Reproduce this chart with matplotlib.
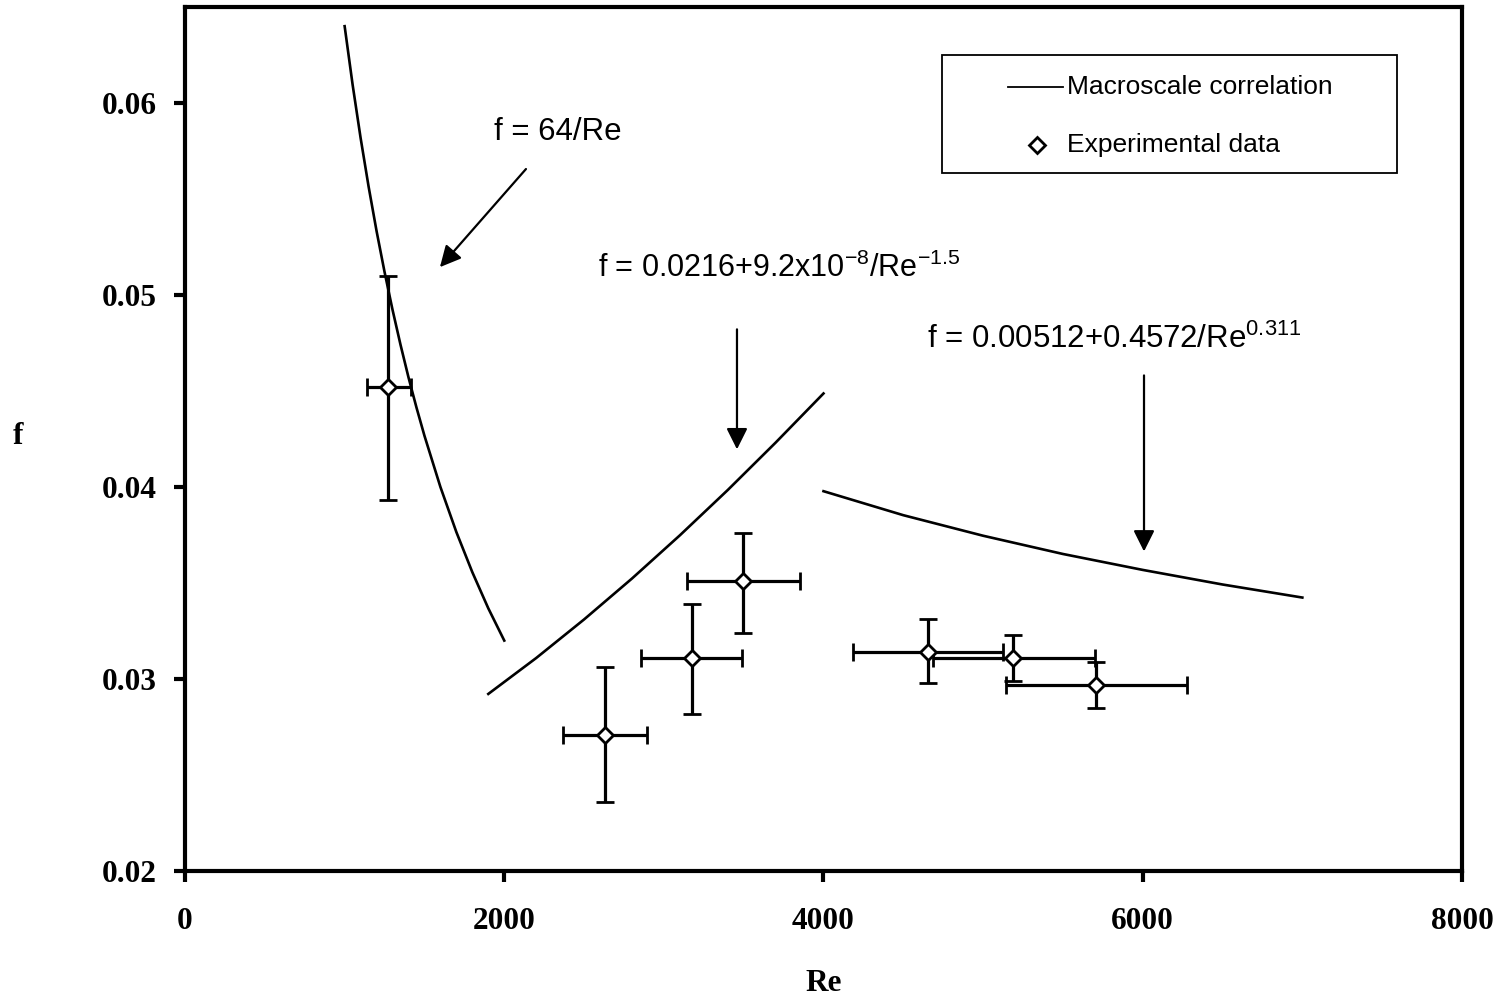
import matplotlib
matplotlib.use("Agg")
import matplotlib.pyplot as plt
from matplotlib.lines import Line2D
from matplotlib.patches import Rectangle

# ---- data ----
# laminar correlation f = 64/Re
re_lam = [1000, 1050, 1100, 1150, 1200, 1250, 1300, 1350, 1400, 1450, 1500, 1600, 1700, 1800, 1900, 2000]
f_lam = [0.0640, 0.06095, 0.05818, 0.05565, 0.05333, 0.0512, 0.04923, 0.04741, 0.04571,
         0.04414, 0.04267, 0.0400, 0.03765, 0.03556, 0.03368, 0.0320]
# transition correlation
re_tr = [1900, 2200, 2500, 2800, 3100, 3400, 3700, 4000]
f_tr = [0.02922, 0.03109, 0.0331, 0.03523, 0.03748, 0.03984, 0.04231, 0.04487]
# turbulent correlation
re_tu = [4000, 4500, 5000, 5500, 6000, 6500, 7000]
f_tu = [0.03978, 0.03853, 0.03746, 0.03651, 0.03568, 0.03492, 0.03424]

# experimental data with asymmetric error bounds
re_exp = [1272, 2631, 3176, 3496, 4655, 5187, 5707]
f_exp = [0.0452, 0.0271, 0.0311, 0.0351, 0.0314, 0.0311, 0.0297]
re_lo = [1140, 2368, 2857, 3145, 4185, 4686, 5143]
re_hi = [1416, 2894, 3489, 3853, 5124, 5701, 6277]
f_lo = [0.0393, 0.0236, 0.0282, 0.0324, 0.0298, 0.0299, 0.0285]
f_hi = [0.0510, 0.0306, 0.0339, 0.0376, 0.0331, 0.0323, 0.0309]

x_ticks = [0, 2000, 4000, 6000, 8000]
y_ticks = [0.02, 0.03, 0.04, 0.05, 0.06]
legend_labels = ["Macroscale correlation", "Experimental data"]

plt.rcParams["mathtext.fontset"] = "custom"
plt.rcParams["mathtext.rm"] = "Liberation Sans"
plt.rcParams["mathtext.it"] = "Liberation Sans:italic"
plt.rcParams["mathtext.default"] = "regular"

fig = plt.figure(figsize=(15.03, 9.98), dpi=100)
ax = fig.add_axes([0.1231, 0.1273, 0.8496, 0.8657])

lc = "black"
for xs, ys in [(re_lam, f_lam), (re_tr, f_tr), (re_tu, f_tu)]:
    ax.plot(xs, ys, color=lc, lw=1.9, zorder=2)

xerr = [[c - l for c, l in zip(re_exp, re_lo)], [h - c for c, h in zip(re_exp, re_hi)]]
yerr = [[c - l for c, l in zip(f_exp, f_lo)], [h - c for c, h in zip(f_exp, f_hi)]]
ax.errorbar(re_exp, f_exp, xerr=xerr, yerr=yerr, fmt="D", ms=8.5,
            mfc="white", mec="black", mew=2.0, ecolor="black", elinewidth=2.3,
            capsize=6.5, capthick=2.3, zorder=3)

ax.set_xlim(0, 8000)
ax.set_ylim(0.02, 0.065)
ax.set_xticks(x_ticks)
ax.set_xticklabels([str(v) for v in x_ticks])
ax.set_yticks(y_ticks)
ax.set_yticklabels([f"{v:.2f}" for v in y_ticks])
for s in ax.spines.values():
    s.set_linewidth(3)
ax.tick_params(direction="out", length=8, width=3, pad=12)
for lab in ax.get_xticklabels() + ax.get_yticklabels():
    lab.set_fontfamily("Liberation Serif")
    lab.set_fontweight("bold")
    lab.set_fontsize(22.5)
ax.tick_params(axis="x", pad=18)

ax.set_xlabel("Re", family="Liberation Serif", weight="bold", fontsize=22.5, labelpad=24)
fig.text(18 / 1503, 1 - 437 / 998, "f", family="Liberation Serif", weight="bold",
         fontsize=22.5, ha="center", va="center")

sans = "Liberation Sans"
ap = dict(arrowstyle="-|>", color="black", lw=1.6, mutation_scale=32, shrinkA=0, shrinkB=0)
ax.annotate("", xy=(1597, 0.05145), xytext=(2136, 0.05656), arrowprops=ap)
ax.annotate("", xy=(3458, 0.04196), xytext=(3458, 0.04821), arrowprops=ap)
ax.annotate("", xy=(6008, 0.03664), xytext=(6008, 0.04581), arrowprops=ap)

ax.text(1936, 0.0585, "f = 64/Re", family=sans, fontsize=22.5, va="center", ha="left")
ax.text(2587, 0.0514, "f = 0.0216+9.2x10$^{-8}$/Re$^{-1.5}$", family=sans, fontsize=22,
        va="center", ha="left")
ax.text(4648, 0.0477, "f = 0.00512+0.4572/Re$^{0.311}$", family=sans, fontsize=22.5,
        va="center", ha="left")

# legend box (axes coordinates)
ax.add_patch(Rectangle((0.593, 0.808), 0.356, 0.136, transform=ax.transAxes,
                       facecolor="white", edgecolor="black", lw=1.3, zorder=4))
ax.add_line(Line2D([(1008 - 185) / 1277, (1063 - 185) / 1277], [(871 - 87) / 864] * 2,
                   transform=ax.transAxes, color="black", lw=1.3, zorder=5))
ax.add_line(Line2D([(1037 - 185) / 1277], [(871 - 145) / 864], transform=ax.transAxes,
                   marker="D", ms=8.5, mfc="white", mec="black", mew=2.0, ls="none", zorder=5))
ax.text((1067 - 185) / 1277, (871 - 87) / 864, legend_labels[0], transform=ax.transAxes,
        family=sans, fontsize=19, va="center", ha="left", zorder=5)
ax.text((1067 - 185) / 1277, (871 - 145) / 864, legend_labels[1], transform=ax.transAxes,
        family=sans, fontsize=19, va="center", ha="left", zorder=5)

fig.savefig("out.png", dpi=100)
